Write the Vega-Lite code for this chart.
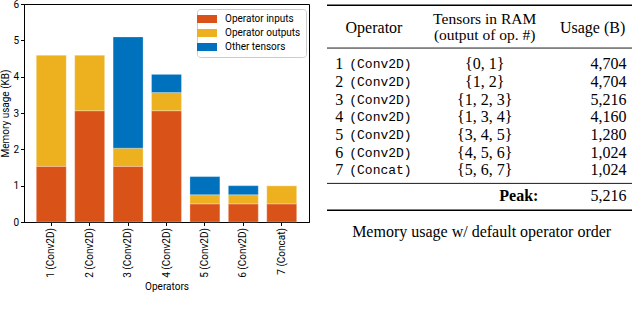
{
  "$schema": "https://vega.github.io/schema/vega-lite/v6.json",
  "padding": {"left": 0, "top": -2, "right": 5, "bottom": 0},
  "bounds": "flush",
  "spacing": 18,
  "background": "white",
  "config": {
    "font": "Roboto",
    "view": {"stroke": "#000", "strokeWidth": 1},
    "axis": {
      "labelFont": "Roboto", "titleFont": "Roboto", "labelFontSize": 10, "titleFontSize": 10,
      "titleFontWeight": "normal", "labelColor": "#000", "titleColor": "#000",
      "domainColor": "#000", "tickColor": "#000", "tickSize": 3.5, "grid": false
    }
  },
  "datasets": {
    "bars": [
      {"operator": "1 (Conv2D)", "category": "Operator inputs", "ord": 1, "kb": 1.53125},
      {"operator": "1 (Conv2D)", "category": "Operator outputs", "ord": 2, "kb": 3.0625},
      {"operator": "1 (Conv2D)", "category": "Other tensors", "ord": 3, "kb": 0},
      {"operator": "2 (Conv2D)", "category": "Operator inputs", "ord": 1, "kb": 3.0625},
      {"operator": "2 (Conv2D)", "category": "Operator outputs", "ord": 2, "kb": 1.53125},
      {"operator": "2 (Conv2D)", "category": "Other tensors", "ord": 3, "kb": 0},
      {"operator": "3 (Conv2D)", "category": "Operator inputs", "ord": 1, "kb": 1.53125},
      {"operator": "3 (Conv2D)", "category": "Operator outputs", "ord": 2, "kb": 0.5},
      {"operator": "3 (Conv2D)", "category": "Other tensors", "ord": 3, "kb": 3.0625},
      {"operator": "4 (Conv2D)", "category": "Operator inputs", "ord": 1, "kb": 3.0625},
      {"operator": "4 (Conv2D)", "category": "Operator outputs", "ord": 2, "kb": 0.5},
      {"operator": "4 (Conv2D)", "category": "Other tensors", "ord": 3, "kb": 0.5},
      {"operator": "5 (Conv2D)", "category": "Operator inputs", "ord": 1, "kb": 0.5},
      {"operator": "5 (Conv2D)", "category": "Operator outputs", "ord": 2, "kb": 0.25},
      {"operator": "5 (Conv2D)", "category": "Other tensors", "ord": 3, "kb": 0.5},
      {"operator": "6 (Conv2D)", "category": "Operator inputs", "ord": 1, "kb": 0.5},
      {"operator": "6 (Conv2D)", "category": "Operator outputs", "ord": 2, "kb": 0.25},
      {"operator": "6 (Conv2D)", "category": "Other tensors", "ord": 3, "kb": 0.25},
      {"operator": "7 (Concat)", "category": "Operator inputs", "ord": 1, "kb": 0.5},
      {"operator": "7 (Concat)", "category": "Operator outputs", "ord": 2, "kb": 0.5},
      {"operator": "7 (Concat)", "category": "Other tensors", "ord": 3, "kb": 0}
    ],
    "table": [
      {"row": 1, "num": "1", "type": "(Conv2D)", "tensors": "{0, 1}", "usage": 4704},
      {"row": 2, "num": "2", "type": "(Conv2D)", "tensors": "{1, 2}", "usage": 4704},
      {"row": 3, "num": "3", "type": "(Conv2D)", "tensors": "{1, 2, 3}", "usage": 5216},
      {"row": 4, "num": "4", "type": "(Conv2D)", "tensors": "{1, 3, 4}", "usage": 4160},
      {"row": 5, "num": "5", "type": "(Conv2D)", "tensors": "{3, 4, 5}", "usage": 1280},
      {"row": 6, "num": "6", "type": "(Conv2D)", "tensors": "{4, 5, 6}", "usage": 1024},
      {"row": 7, "num": "7", "type": "(Concat)", "tensors": "{5, 6, 7}", "usage": 1024}
    ],
    "one": [{}]
  },
  "hconcat": [
    {
      "width": 285,
      "height": 218,
      "data": {"name": "bars"},
      "mark": {"type": "bar", "stroke": "#ffffff", "strokeOpacity": 0.35, "strokeWidth": 0.8},
      "encoding": {
        "x": {
          "field": "operator", "type": "nominal", "sort": null,
          "scale": {"paddingInner": 0.22, "paddingOuter": 0.32},
          "axis": {"labelAngle": -90, "title": "Operators", "titlePadding": 4, "labelPadding": 2}
        },
        "y": {
          "field": "kb", "type": "quantitative", "stack": "zero",
          "scale": {"domain": [0, 6], "nice": false},
          "axis": {"values": [0, 1, 2, 3, 4, 5, 6], "title": "Memory usage (KB)", "titlePadding": 2, "labelPadding": 2}
        },
        "color": {
          "field": "category", "type": "nominal",
          "scale": {"domain": ["Operator inputs", "Operator outputs", "Other tensors"], "range": ["#D95319", "#EDB120", "#0072BD"]},
          "legend": {
            "orient": "none", "legendX": 173, "legendY": 5, "title": null,
            "symbolType": "M-2,-0.8H2V0.8H-2Z", "symbolSize": 100, "symbolStrokeWidth": 0,
            "labelFont": "Roboto", "labelFontSize": 10, "labelColor": "#000", "labelOffset": 13,
            "rowPadding": 4, "padding": 5, "fillColor": "white", "strokeColor": "#cccccc", "cornerRadius": 3
          }
        },
        "order": {"field": "ord", "type": "quantitative"}
      }
    },
    {
      "width": 305,
      "height": 230,
      "view": {"stroke": null},
      "layer": [
        {
          "data": {"name": "one"},
          "mark": {"type": "rule", "strokeWidth": 1.4, "color": "#000"},
          "encoding": {
            "x": {"datum": 0, "type": "quantitative", "scale": {"domain": [0, 100], "nice": false, "zero": false}, "axis": null},
            "x2": {"datum": 100},
            "y": {"datum": -2.33, "type": "quantitative", "scale": {"domain": [-2.4, 10.6], "reverse": true, "nice": false, "zero": false}, "axis": null}
          }
        },
        {
          "data": {"name": "one"},
          "mark": {"type": "rule", "strokeWidth": 0.9, "color": "#000"},
          "encoding": {"x": {"datum": 0, "type": "quantitative"}, "x2": {"datum": 100}, "y": {"datum": 0.09, "type": "quantitative"}}
        },
        {
          "data": {"name": "one"},
          "mark": {"type": "rule", "strokeWidth": 0.9, "color": "#000"},
          "encoding": {"x": {"datum": 0, "type": "quantitative"}, "x2": {"datum": 100}, "y": {"datum": 7.74, "type": "quantitative"}}
        },
        {
          "data": {"name": "one"},
          "mark": {"type": "rule", "strokeWidth": 1.4, "color": "#000"},
          "encoding": {"x": {"datum": 0, "type": "quantitative"}, "x2": {"datum": 100}, "y": {"datum": 9.26, "type": "quantitative"}}
        },
        {
          "data": {"name": "one"},
          "mark": {"type": "text", "font": "Liberation Serif", "fontSize": 16, "align": "center", "baseline": "middle", "text": "Operator"},
          "encoding": {"x": {"datum": 15.4, "type": "quantitative"}, "y": {"datum": -1.03, "type": "quantitative"}}
        },
        {
          "data": {"name": "one"},
          "mark": {"type": "text", "font": "Liberation Serif", "fontSize": 15.5, "align": "center", "baseline": "middle", "text": "Tensors in RAM"},
          "encoding": {"x": {"datum": 51.7, "type": "quantitative"}, "y": {"datum": -1.57, "type": "quantitative"}}
        },
        {
          "data": {"name": "one"},
          "mark": {"type": "text", "font": "Liberation Serif", "fontSize": 15.5, "align": "center", "baseline": "middle", "text": "(output of op. #)"},
          "encoding": {"x": {"datum": 51.7, "type": "quantitative"}, "y": {"datum": -0.66, "type": "quantitative"}}
        },
        {
          "data": {"name": "one"},
          "mark": {"type": "text", "font": "Liberation Serif", "fontSize": 16, "align": "right", "baseline": "middle", "text": "Usage (B)"},
          "encoding": {"x": {"datum": 97.8, "type": "quantitative"}, "y": {"datum": -1.03, "type": "quantitative"}}
        },
        {
          "data": {"name": "table"},
          "mark": {"type": "text", "font": "Liberation Serif", "fontSize": 16, "align": "right", "baseline": "middle"},
          "encoding": {"x": {"datum": 5.3, "type": "quantitative"}, "y": {"field": "row", "type": "quantitative"}, "text": {"field": "num"}}
        },
        {
          "data": {"name": "table"},
          "mark": {"type": "text", "font": "Liberation Mono", "fontSize": 13, "align": "left", "baseline": "middle"},
          "encoding": {"x": {"datum": 7.3, "type": "quantitative"}, "y": {"field": "row", "type": "quantitative"}, "text": {"field": "type"}}
        },
        {
          "data": {"name": "table"},
          "mark": {"type": "text", "font": "Liberation Serif", "fontSize": 16, "align": "center", "baseline": "middle"},
          "encoding": {"x": {"datum": 51.7, "type": "quantitative"}, "y": {"field": "row", "type": "quantitative"}, "text": {"field": "tensors"}}
        },
        {
          "data": {"name": "table"},
          "mark": {"type": "text", "font": "Liberation Serif", "fontSize": 16, "align": "right", "baseline": "middle"},
          "encoding": {"x": {"datum": 98.2, "type": "quantitative"}, "y": {"field": "row", "type": "quantitative"}, "text": {"field": "usage", "type": "quantitative", "format": ","}}
        },
        {
          "data": {"name": "one"},
          "mark": {"type": "text", "font": "Liberation Serif", "fontSize": 16, "fontWeight": "bold", "align": "right", "baseline": "middle", "text": "Peak:"},
          "encoding": {"x": {"datum": 69.3, "type": "quantitative"}, "y": {"datum": 8.45, "type": "quantitative"}}
        },
        {
          "data": {"name": "one"},
          "mark": {"type": "text", "font": "Liberation Serif", "fontSize": 16, "align": "right", "baseline": "middle", "text": "5,216"},
          "encoding": {"x": {"datum": 98.2, "type": "quantitative"}, "y": {"datum": 8.45, "type": "quantitative"}}
        },
        {
          "data": {"name": "one"},
          "mark": {"type": "text", "font": "Liberation Serif", "fontSize": 16, "align": "center", "baseline": "middle", "text": "Memory usage w/ default operator order"},
          "encoding": {"x": {"datum": 50.7, "type": "quantitative"}, "y": {"datum": 10.47, "type": "quantitative"}}
        }
      ]
    }
  ]
}
